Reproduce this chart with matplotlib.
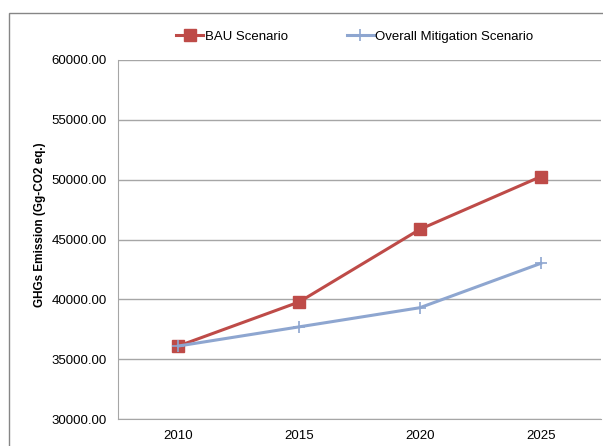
import matplotlib.pyplot as plt
from matplotlib.patches import Rectangle

# data
years = ["2010", "2015", "2020", "2025"]
bau = [36100, 39780, 45850, 50250]
mitigation = [36100, 37700, 39300, 43000]
y_ticks = [30000, 35000, 40000, 45000, 50000, 55000, 60000]

plt.rcParams["font.family"] = ["Liberation Sans", "DejaVu Sans"]

fig = plt.figure(figsize=(6.03, 4.46), dpi=100)
ax = fig.add_axes([118 / 603, 1 - 419 / 446, (601 - 118) / 603, (419 - 60) / 446])

# outer chart border (cropped on the right and bottom)
fig.patches.append(Rectangle((9 / 603, -0.1), 1.2, 1 - 13 / 446 + 0.1,
                             transform=fig.transFigure, fill=False,
                             edgecolor="#868686", linewidth=1.0))

x = range(len(years))
ax.plot(x, bau, color="#BE4B48", linewidth=2.2, marker="s", markersize=8,
        label="BAU Scenario", zorder=3)
ax.plot(x, mitigation, color="#8EA6D0", linewidth=2.2, marker="+", markersize=9,
        markeredgewidth=1.2, label="Overall Mitigation Scenario", zorder=3)

ax.set_xlim(-0.5, 3.5)
ax.set_ylim(30000, 60000)
ax.set_xticks(list(x))
ax.set_xticklabels(years)
ax.set_yticks(y_ticks)
ax.set_yticklabels([f"{v:.2f}" for v in y_ticks])
ax.tick_params(axis="both", length=0, labelsize=9.5, colors="black", pad=8)
ax.yaxis.grid(True, color="#A6A6A6", linewidth=1.0)
ax.set_axisbelow(True)

for side in ["top", "right"]:
    ax.spines[side].set_visible(False)
ax.spines["left"].set_color("#A6A6A6")
ax.spines["bottom"].set_color("#A6A6A6")

fig.text(40 / 603, 1 - 225 / 446, "GHGs Emission (Gg-CO2 eq.)", rotation=90,
         fontsize=8.5, fontweight="bold", ha="center", va="center")

fig.legend(loc="center", bbox_to_anchor=(355 / 603, 1 - 37 / 446), ncol=2,
           frameon=False, fontsize=9.5, handlelength=2.0, columnspacing=4.5,
           handletextpad=0.15)

fig.savefig("out.png", dpi=100)
